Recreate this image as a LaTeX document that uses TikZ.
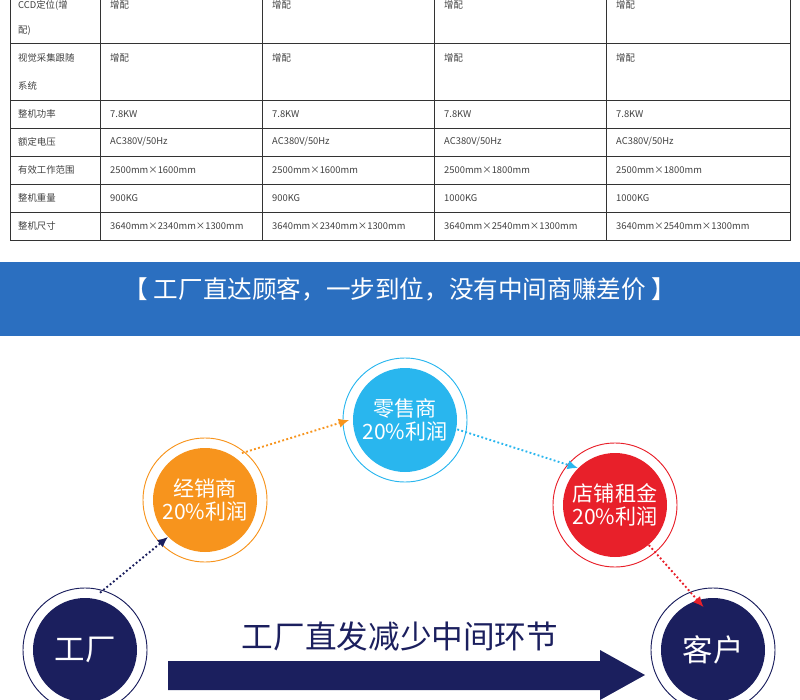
\documentclass[tikz,border=0pt]{standalone}
\usepackage{fontspec}
\setmainfont{Noto Sans CJK SC}
\newfontfamily\cjkbold[AutoFakeBold=3]{Noto Sans CJK SC}
\usetikzlibrary{arrows.meta}
\definecolor{navy}{HTML}{1B1F5E}
\definecolor{bandblue}{HTML}{2B6FC0}
\definecolor{orangeA}{HTML}{F7941D}
\definecolor{skyA}{HTML}{29B6EE}
\definecolor{redA}{HTML}{E8202A}
\begin{document}
\begin{tikzpicture}[x=0.03cm, y=-0.03cm,
  cell/.style={anchor=west, font=\fontsize{8}{9}\selectfont, text=black!75, inner sep=0pt},
  ring/.style={circle, minimum size=104*0.03cm, text=white, align=center, font=\fontsize{18}{20}\selectfont, inner sep=0pt},
  hop/.style={-{Latex[length=9pt,width=8pt]}, line width=1.6pt, dotted}
]
\useasboundingbox (0,0) rectangle (800,700);
\clip (0,0) rectangle (800,700);

% spec table
\draw[black!80, line width=0.6pt] (10,-20) rectangle (790,240);
\foreach \x in {100,262,434,606} \draw[black!80, line width=0.6pt] (\x,-20) -- (\x,240);
\foreach \y in {43,100,128,156,184,212} \draw[black!80, line width=0.6pt] (10,\y) -- (790,\y);
\node[cell] (r1a) at (18,5) {CCD定位(增};
\node[cell] (r1b) at (18,31) {配)};
\node[cell] (r2a) at (18,58) {视觉采集跟随};
\node[cell] (r2b) at (18,86) {系统};
\foreach \x in {110,272,444,616} {
  \node[cell] at (\x,5) {增配};
  \node[cell] at (\x,58) {增配};
  \node[cell] at (\x,114) {7.8KW};
  \node[cell] at (\x,142) {AC380V/50Hz};
}
\node[cell] (r3) at (18,114) {整机功率};
\node[cell] (r4) at (18,142) {额定电压};
\node[cell] (r5) at (18,170) {有效工作范围};
\node[cell] (r6) at (18,198) {整机重量};
\node[cell] (r7) at (18,226) {整机尺寸};
\foreach \x/\r/\w/\s in {110/1600/900/2340,272/1600/900/2340,444/1800/1000/2540,616/1800/1000/2540} {
  \node[cell] at (\x,170) {2500mm×\r mm};
  \node[cell] at (\x,198) {\w KG};
  \node[cell] at (\x,226) {3640mm×\s mm×1300mm};
}

% banner
\fill[bandblue] (0,262) rectangle (800,336);
\node[text=white, font=\fontsize{21}{24}\selectfont] (banner) at (400,289) {【 工厂直达顾客，一步到位，没有中间商赚差价 】};

% chain of circles
\node[ring, fill=navy, font=\cjkbold\fontsize{26}{28}\selectfont] (factory) at (85,650) {工厂};
\node[ring, fill=orangeA] (dealer) at (205,500) {经销商\\20\%利润};
\node[ring, fill=skyA] (retail) at (405,420) {零售商\\20\%利润};
\node[ring, fill=redA] (rent) at (615,505) {店铺租金\\20\%利润};
\node[ring, fill=navy, font=\cjkbold\fontsize{26}{28}\selectfont] (client) at (713,650) {客户};
\foreach \n/\c in {factory/navy,dealer/orangeA,retail/skyA,rent/redA,client/navy}
  \draw[\c, line width=0.8pt] (\n) circle (62);

\draw[hop, navy] (factory.north) ++(15,-5) -- (dealer.south west);
\draw[hop, orangeA] (dealer.north east) ++(0,-10) -- ([xshift=-3pt]retail.west);
\draw[hop, skyA] ([yshift=-8pt]retail.east) -- (rent.north west);
\draw[hop, redA] ([xshift=-5pt]rent.south east) -- ([xshift=-8pt,yshift=-8pt]client.north);

% slogan and bar
\node[text=navy, font=\cjkbold\fontsize{27}{30}\selectfont] (slogan) at (400,636) {工厂直发减少中间环节};
\fill[navy] (168,661) rectangle (600,690) -- (600,650) -- (645,675) -- (600,700) -- (600,690);
\end{tikzpicture}
\end{document}
